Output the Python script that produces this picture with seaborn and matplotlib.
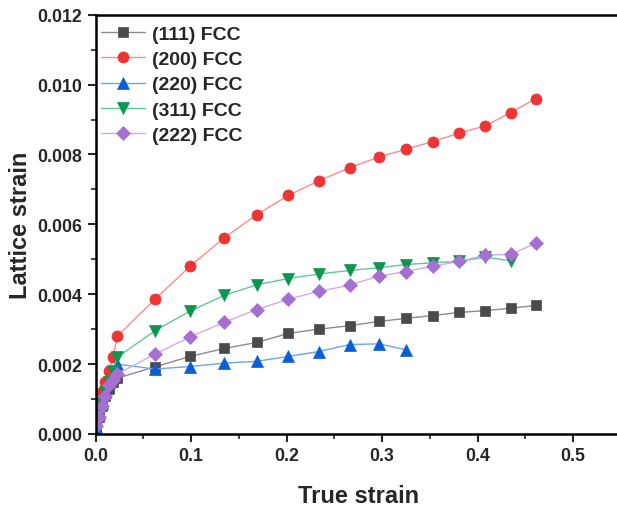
import numpy as np
import pandas as pd
import matplotlib.pyplot as plt
import seaborn as sns
from matplotlib.ticker import MultipleLocator

# True strain positions (early elastic points + plastic regime)
x_early = [0.001, 0.004, 0.007, 0.010, 0.014, 0.018, 0.023]
x_plastic = [0.062, 0.099, 0.135, 0.169, 0.202, 0.234, 0.266,
             0.297, 0.325, 0.353, 0.381, 0.408, 0.435, 0.461]

# Lattice strain per reflection
fcc_111 = [0.0002, 0.0005, 0.0008, 0.0011, 0.0013, 0.0015, 0.0016,
           0.00192, 0.00222, 0.00245, 0.00262, 0.00288, 0.00300, 0.00310,
           0.00322, 0.00331, 0.00339, 0.00348, 0.00353, 0.00360, 0.00368]
fcc_200 = [0.0003, 0.0008, 0.0012, 0.0015, 0.0018, 0.0022, 0.0028,
           0.00385, 0.00480, 0.00562, 0.00628, 0.00683, 0.00725, 0.00762,
           0.00793, 0.00815, 0.00837, 0.00861, 0.00882, 0.00920, 0.00960]
fcc_220 = [0.0002, 0.0006, 0.0009, 0.0012, 0.0015, 0.0017, 0.0020,
           0.00186, 0.00193, 0.00203, 0.00208, 0.00222, 0.00236, 0.00256,
           0.00258, 0.00241]
fcc_311 = [0.0002, 0.0006, 0.0009, 0.0012, 0.0015, 0.0018, 0.0022,
           0.00295, 0.00352, 0.00397, 0.00427, 0.00445, 0.00458, 0.00468,
           0.00476, 0.00485, 0.00490, 0.00494, 0.00506, 0.00496]
fcc_222 = [0.00024, 0.0005, 0.0008, 0.0011, 0.0014, 0.00155, 0.00172,
           0.00228, 0.00278, 0.00320, 0.00356, 0.00386, 0.00408, 0.00426,
           0.00452, 0.00465, 0.00480, 0.00494, 0.00512, 0.00514, 0.00546]

labels = ["(111) FCC", "(200) FCC", "(220) FCC", "(311) FCC", "(222) FCC"]
series = [fcc_111, fcc_200, fcc_220, fcc_311, fcc_222]
markers = ["s", "o", "^", "v", "D"]
marker_colors = ["#4a4a4a", "#ee3535", "#0a5fd6", "#0c9650", "#a66fd2"]
line_colors = ["#8c8c8c", "#ff8a8a", "#6aa6ee", "#62c796", "#d2a9ec"]
marker_sizes = [7, 8, 8, 8, 7]

sns.set_style("ticks")
plt.rcParams['font.family'] = ['Liberation Sans', 'DejaVu Sans']
plt.rcParams['font.weight'] = 'bold'

fig = plt.figure(figsize=(6.17, 5.10), dpi=100)
ax = fig.add_axes([95.5 / 617, 75 / 510, 525.25 / 617, 419.3 / 510])

x_all = x_early + x_plastic
for lab, vals, m, mc, lc, ms in zip(labels, series, markers, marker_colors, line_colors, marker_sizes):
    df = pd.DataFrame({"x": x_all[:len(vals)], "y": vals})
    sns.lineplot(data=df, x="x", y="y", ax=ax, sort=False, estimator=None,
                 color=lc, linewidth=1.0, marker=m, markersize=ms,
                 markerfacecolor=mc, markeredgecolor=mc, markeredgewidth=0.5,
                 label=lab)

ax.set_xlim(0, 0.55)
ax.set_ylim(0, 0.012)
ax.xaxis.set_major_locator(MultipleLocator(0.1))
ax.xaxis.set_minor_locator(MultipleLocator(0.05))
ax.yaxis.set_major_locator(MultipleLocator(0.002))
ax.yaxis.set_minor_locator(MultipleLocator(0.001))
ax.xaxis.set_major_formatter(plt.FormatStrFormatter('%.1f'))
ax.yaxis.set_major_formatter(plt.FormatStrFormatter('%.3f'))
ax.tick_params(which='major', direction='out', length=6, width=1.5, labelsize=12.8)
ax.tick_params(which='minor', direction='out', length=3.5, width=1.2)
for lbl in ax.get_xticklabels() + ax.get_yticklabels():
    lbl.set_fontweight('bold')

for side in ['left', 'bottom', 'top']:
    ax.spines[side].set_linewidth(1.8)
    ax.spines[side].set_color('black')
ax.spines['right'].set_visible(False)

ax.set_xlabel("True strain", fontsize=17, fontweight='bold', labelpad=14)
ax.set_ylabel("Lattice strain", fontsize=17, fontweight='bold', labelpad=4)

leg = ax.legend(loc='upper left', frameon=False, fontsize=14, handlelength=2.3,
                labelspacing=0.4, borderaxespad=0.0, borderpad=0.27,
                handletextpad=0.35, bbox_to_anchor=(0.0, 0.988))
for t in leg.get_texts():
    t.set_fontweight('bold')

fig.savefig("out.png", dpi=100)
